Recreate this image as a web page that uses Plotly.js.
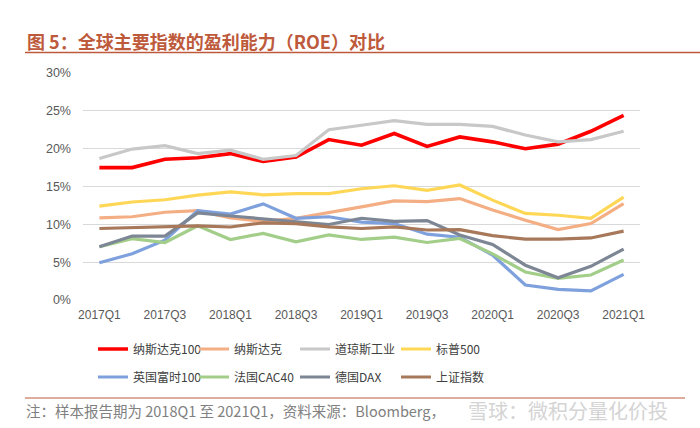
<!DOCTYPE html>
<html>
<head>
<meta charset="utf-8">
<script src="https://cdn.plot.ly/plotly-3.0.1.min.js"></script>
<style>
  html, body { margin: 0; padding: 0; background: #fff; }
  #chart { width: 700px; height: 428px; }
</style>
</head>
<body>
<div id="chart"></div>
<script>
// ---- data (ROE, %) ----
const quarters = ["2017Q1","2017Q2","2017Q3","2017Q4","2018Q1","2018Q2","2018Q3","2018Q4",
                  "2019Q1","2019Q2","2019Q3","2019Q4","2020Q1","2020Q2","2020Q3","2020Q4","2021Q1"];
const tickQuarters = ["2017Q1","2017Q3","2018Q1","2018Q3","2019Q1","2019Q3","2020Q1","2020Q3","2021Q1"];
const seriesNames = ["纳斯达克100","纳斯达克","道琼斯工业","标普500","英国富时100","法国CAC40","德国DAX","上证指数"];
const nasdaq100 = [17.5, 17.5, 18.6, 18.8, 19.35, 18.3, 18.9, 21.2, 20.45, 22.0, 20.3, 21.55, 20.9, 20.0, 20.6, 22.3, 24.4];
const nasdaq    = [10.85, 11.0, 11.6, 11.8, 10.85, 10.4, 10.8, 11.5, 12.3, 13.1, 13.0, 13.4, 11.9, 10.55, 9.3, 10.1, 12.75];
const dow       = [18.7, 19.95, 20.4, 19.35, 19.8, 18.6, 19.1, 22.5, 23.1, 23.7, 23.2, 23.2, 22.95, 21.8, 20.9, 21.2, 22.3];
const sp500     = [12.4, 12.95, 13.25, 13.85, 14.3, 13.9, 14.07, 14.07, 14.7, 15.1, 14.5, 15.2, 13.2, 11.44, 11.2, 10.8, 13.6];
const ftse100   = [4.93, 6.1, 7.9, 11.8, 11.35, 12.7, 10.8, 11.0, 10.3, 10.1, 8.7, 8.3, 5.94, 1.98, 1.4, 1.2, 3.39];
const cac40     = [7.04, 8.1, 7.6, 9.8, 8.0, 8.8, 7.7, 8.6, 8.0, 8.3, 7.6, 8.13, 6.1, 3.7, 2.86, 3.3, 5.28];
const dax       = [7.04, 8.45, 8.45, 11.5, 11.1, 10.7, 10.3, 9.98, 10.8, 10.4, 10.5, 8.6, 7.35, 4.6, 2.95, 4.45, 6.73];
const sse       = [9.45, 9.6, 9.7, 9.8, 9.65, 10.2, 10.1, 9.67, 9.45, 9.67, 9.25, 9.3, 8.5, 8.05, 8.05, 8.2, 9.1];

const allSeries = [nasdaq100, nasdaq, dow, sp500, ftse100, cac40, dax, sse];
const colors = ["#FF0000", "#F4AE84", "#C8C8C8", "#FFD757", "#7EA1DD", "#A3CE89", "#7D8694", "#A7785A"];
const widths = [3.6, 3.2, 3.2, 3.2, 3.2, 3.2, 3.2, 3.2];

const W = 700, H = 428;
const M = { l: 83, r: 60, t: 73, b: 128 };
const pw = W - M.l - M.r, ph = H - M.t - M.b;
const px2x = px => (px - M.l) / pw;
const px2y = py => (H - M.b - py) / ph;

const traces = allSeries.map((vals, i) => ({
  type: "scatter",
  mode: "lines",
  name: seriesNames[i],
  x: quarters,
  y: vals,
  line: { color: colors[i], width: widths[i] },
  legend: i < 4 ? "legend" : "legend2",
  hoverinfo: "skip"
}));

const titleColor = "#BE5A3C";
const legendCommon = {
  orientation: "h",
  xref: "paper", yref: "paper",
  xanchor: "left", yanchor: "middle",
  font: { family: "Noto Sans CJK SC, sans-serif", size: 12, color: "#404040" },
  bgcolor: "rgba(0,0,0,0)",
  entrywidth: 56,
  entrywidthmode: "pixels",
  itemwidth: 30,
  tracegroupgap: 0
};

const layout = {
  width: W, height: H,
  margin: M,
  paper_bgcolor: "#fff",
  plot_bgcolor: "#fff",
  showlegend: true,
  font: { family: "Liberation Sans, Arial, sans-serif", color: "#595959", size: 12 },
  xaxis: {
    type: "category",
    range: [-0.5, quarters.length - 0.5],
    tickmode: "array",
    tickvals: tickQuarters,
    ticktext: tickQuarters,
    showgrid: false,
    zeroline: false,
    showline: false,
    ticks: "",
    ticklabelstandoff: 6,
    tickfont: { family: "Liberation Sans, Arial, sans-serif", size: 12, color: "#595959" },
    fixedrange: true
  },
  yaxis: {
    range: [0, 30],
    dtick: 5,
    tick0: 0,
    ticksuffix: "%",
    showgrid: true,
    gridcolor: "#D9D9D9",
    gridwidth: 1,
    zeroline: false,
    showline: false,
    ticks: "",
    ticklabelstandoff: 11,
    tickfont: { family: "Liberation Sans, Arial, sans-serif", size: 12.5, color: "#595959" },
    fixedrange: true
  },
  legend: Object.assign({}, legendCommon, { x: px2x(93), y: px2y(349) }),
  legend2: Object.assign({}, legendCommon, { x: px2x(93), y: px2y(377) }),
  shapes: [
    { type: "line", xref: "paper", yref: "paper",
      x0: px2x(25), x1: px2x(700), y0: px2y(52.5), y1: px2y(52.5),
      line: { color: titleColor, width: 1.5 } },
    { type: "line", xref: "paper", yref: "paper",
      x0: px2x(25), x1: px2x(685), y0: px2y(398), y1: px2y(398),
      line: { color: titleColor, width: 1.2 } }
  ],
  annotations: [
    { xref: "paper", yref: "paper", x: px2x(25), y: px2y(41),
      xanchor: "left", yanchor: "middle", showarrow: false,
      text: "<b>图 5：全球主要指数的盈利能力（ROE）对比</b>",
      font: { family: "Noto Sans CJK SC, sans-serif", size: 18, color: titleColor } },
    { xref: "paper", yref: "paper", x: px2x(24), y: px2y(410),
      xanchor: "left", yanchor: "middle", showarrow: false,
      text: "注：样本报告期为 2018Q1 至 2021Q1，资料来源：Bloomberg，",
      font: { family: "Noto Sans CJK SC, sans-serif", size: 14.5, color: "#808080" } },
    { xref: "paper", yref: "paper", x: px2x(466), y: px2y(410),
      xanchor: "left", yanchor: "middle", showarrow: false,
      text: "雪球：微积分量化价投",
      font: { family: "Noto Sans CJK SC, sans-serif", size: 20, color: "#D4D4D4" } }
  ]
};

Plotly.newPlot("chart", traces, layout, { displayModeBar: false, staticPlot: true });
</script>
</body>
</html>
